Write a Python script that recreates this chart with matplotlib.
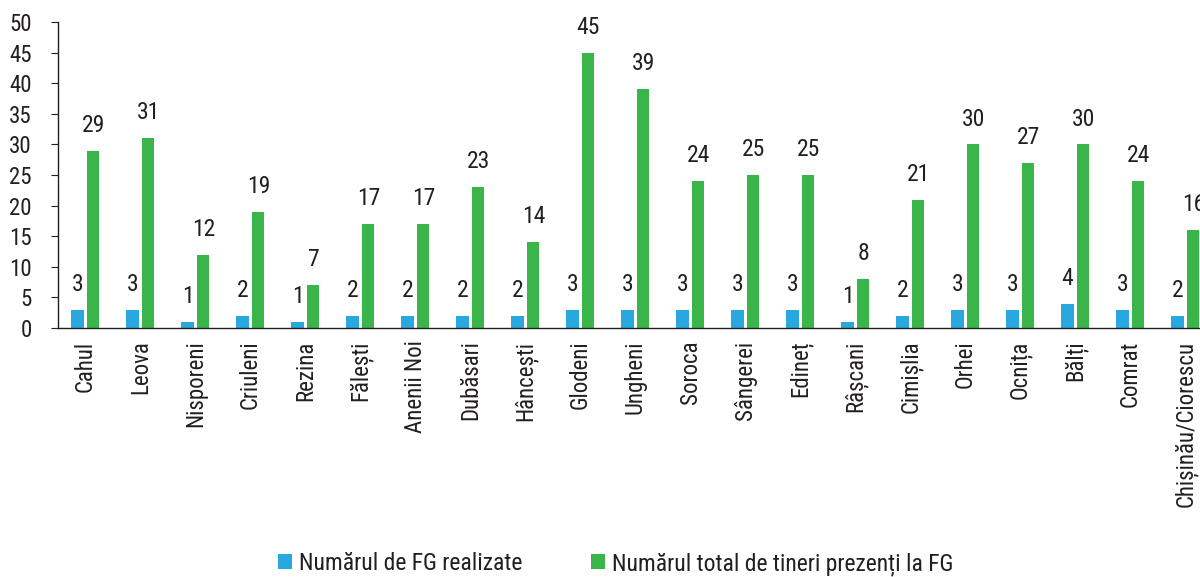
import matplotlib
matplotlib.use("Agg")
import matplotlib.pyplot as plt
from matplotlib import font_manager as fm
import numpy as np

categories = ["Cahul", "Leova", "Nisporeni", "Criuleni", "Rezina", "Fălești", "Anenii Noi",
              "Dubăsari", "Hâncești", "Glodeni", "Ungheni", "Soroca", "Sângerei", "Edineț",
              "Râșcani", "Cimișlia", "Orhei", "Ocnița", "Bălți", "Comrat", "Chișinău/Ciorescu"]
fg_realizate = [3, 3, 1, 2, 1, 2, 2, 2, 2, 3, 3, 3, 3, 3, 1, 2, 3, 3, 4, 3, 2]
tineri_prezenti = [29, 31, 12, 19, 7, 17, 17, 23, 14, 45, 39, 24, 25, 25, 8, 21, 30, 27, 30, 24, 16]
series_names = ["Numărul de FG realizate", "Numărul total de tineri prezenți la FG"]
yticks = [0, 5, 10, 15, 20, 25, 30, 35, 40, 45, 50]

available = {f.name for f in fm.fontManager.ttflist}
family = "DejaVu Sans"
for cand in ["Roboto Condensed", "Liberation Sans Narrow", "DejaVu Sans Condensed", "Open Sans Condensed"]:
    if cand in available:
        family = cand
        break
plt.rcParams['font.family'] = [family, "DejaVu Sans"]
txt = "#231F20"
blue = "#29A8E0"
green = "#3AB54A"

fig = plt.figure(figsize=(12, 5.77), dpi=100)
ax = fig.add_axes([0.0483, 0.4315, 0.9625, 0.5303])
x = np.arange(len(categories))
w = 0.22
off = 0.145
b1 = ax.bar(x - off, fg_realizate, w, color=blue, label=series_names[0])
b2 = ax.bar(x + off, tineri_prezenti, w, color=green, label=series_names[1])
for bars, vals in ((b1, fg_realizate), (b2, tineri_prezenti)):
    for r, v in zip(bars, vals):
        ax.annotate(str(v), (r.get_x() + r.get_width() / 2, v), xytext=(0, 10),
                    textcoords="offset points", ha="center", va="bottom",
                    fontsize=17, color=txt)

ax.set_xlim(-0.5, len(categories) - 0.5)
ax.set_ylim(0, 50)
ax.set_yticks(yticks)
ax.set_xticks(x)
ax.set_xticklabels(categories, rotation=90, fontsize=16.5, color=txt)
ax.tick_params(axis="x", length=0, pad=9)
ax.tick_params(axis="y", labelsize=16.5, labelcolor=txt, length=5, color=txt, direction="out", pad=14)
for s in ["top", "right"]:
    ax.spines[s].set_visible(False)
for s in ["left", "bottom"]:
    ax.spines[s].set_color(txt)
    ax.spines[s].set_linewidth(1.0)
ax.spines["bottom"].set_zorder(5)

fig.legend(handles=[b1, b2], loc="lower center", bbox_to_anchor=(0.513, -0.035), ncol=2,
           frameon=False, fontsize=17, handlelength=0.6, handleheight=0.6,
           handletextpad=0.3, columnspacing=2.9, labelcolor=txt)

fig.savefig("out.png", dpi=100)
